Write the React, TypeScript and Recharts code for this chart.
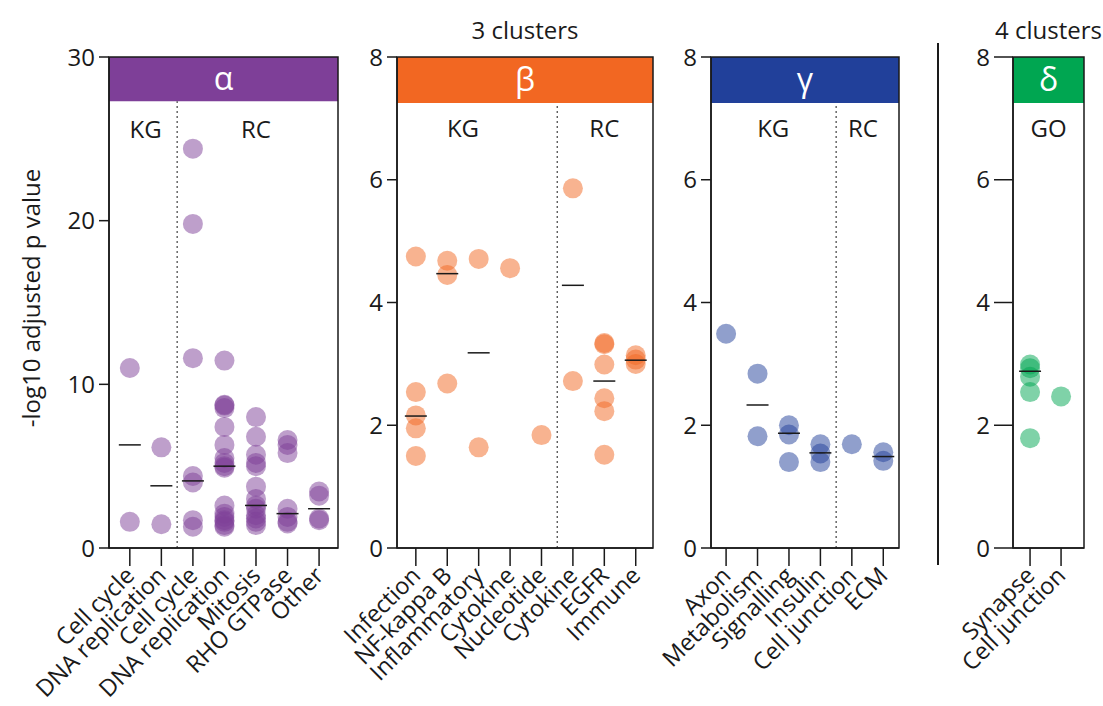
import React from "react";
import { ScatterChart, Scatter, XAxis, YAxis, ReferenceArea, ReferenceLine, ReferenceDot } from "recharts";

const FONT = '"Open Sans", "Noto Sans", sans-serif';
const INK = "#1a1a1a";

// α cluster
const alphaCats = ["Cell cycle", "DNA replication", "Cell cycle", "DNA replication", "Mitosis", "RHO GTPase", "Other"];
const alphaValues = [
  [11.0, 1.6],
  [6.15, 1.45],
  [24.4, 19.8, 11.6, 4.4, 4.0, 1.7, 1.3],
  [11.45, 8.75, 8.7, 8.55, 7.4, 6.3, 5.5, 5.2, 5.0, 4.9, 2.6, 2.1, 1.9, 1.7, 1.6, 1.4, 1.3],
  [8.0, 6.8, 5.7, 5.2, 5.0, 3.75, 3.0, 2.6, 2.4, 2.0, 1.8, 1.6, 1.4],
  [6.6, 6.3, 5.8, 2.4, 1.9, 1.6, 1.5],
  [3.45, 3.2, 1.8, 1.7],
];
const alphaMedians = [6.3, 3.8, 4.1, 5.0, 2.6, 2.1, 2.4];

// β cluster
const betaCats = ["Infection", "NF-kappa B", "Inflammatory", "Cytokine", "Nucleotide", "Cytokine", "EGFR", "Immune"];
const betaValues = [
  [4.75, 2.54, 2.16, 1.95, 1.5],
  [4.68, 4.45, 2.68],
  [4.71, 1.64],
  [4.56],
  [1.84],
  [5.86, 2.72],
  [3.34, 3.32, 2.99, 2.44, 2.23, 1.52],
  [3.14, 3.07, 3.0],
];
const betaMedians = [2.15, 4.47, 3.18, null, null, 4.28, 2.72, 3.06];

// γ cluster
const gammaCats = ["Axon", "Metabolism", "Signalling", "Insulin", "Cell junction", "ECM"];
const gammaValues = [
  [3.49],
  [2.84, 1.82],
  [2.0, 1.85, 1.4],
  [1.69, 1.54, 1.4],
  [1.69],
  [1.56, 1.42],
];
const gammaMedians = [null, 2.33, 1.87, 1.55, null, 1.49];

// δ cluster
const deltaCats = ["Synapse", "Cell junction"];
const deltaValues = [
  [2.99, 2.93, 2.79, 2.54, 1.79],
  [2.47],
];
const deltaMedians = [2.88, null];

type Group = { name: string; at: number };

type Panel = {
  left: number;
  width: number;
  yAxisWidth: number;
  rightMargin: number;
  xDomain: [number, number];
  yMax: number;
  yTicks: number[];
  yTickSize: number;
  headerFrom: number;
  groupY: number;
  color: string;
  letter: string;
  cats: string[];
  values: number[][];
  medians: (number | null)[];
  groups: Group[];
  dividers: number[];
  title?: string;
  yLabel?: string;
};

const panels: Panel[] = [
  {
    left: 0, width: 345, yAxisWidth: 109, rightMargin: 7,
    xDomain: [-0.66, 6.6], yMax: 30, yTicks: [0, 10, 20, 30], yTickSize: 10,
    headerFrom: 27.3, groupY: 25.6, color: "#7E3F98", letter: "α",
    cats: alphaCats, values: alphaValues, medians: alphaMedians,
    groups: [{ name: "KG", at: 0.5 }, { name: "RC", at: 4 }], dividers: [1.5],
    yLabel: "-log10 adjusted p value",
  },
  {
    left: 345, width: 315, yAxisWidth: 52, rightMargin: 7,
    xDomain: [-0.6, 7.55], yMax: 8, yTicks: [0, 2, 4, 6, 8], yTickSize: 10,
    headerFrom: 7.25, groupY: 6.83, color: "#F26722", letter: "β",
    cats: betaCats, values: betaValues, medians: betaMedians,
    groups: [{ name: "KG", at: 1.5 }, { name: "RC", at: 6 }], dividers: [4.5],
    title: "3 clusters",
  },
  {
    left: 660, width: 246, yAxisWidth: 51, rightMargin: 7,
    xDomain: [-0.48, 5.5], yMax: 8, yTicks: [0, 2, 4, 6, 8], yTickSize: 10,
    headerFrom: 7.25, groupY: 6.83, color: "#21409A", letter: "γ",
    cats: gammaCats, values: gammaValues, medians: gammaMedians,
    groups: [{ name: "KG", at: 1.5 }, { name: "RC", at: 4.35 }], dividers: [3.5],
  },
  {
    left: 950, width: 140, yAxisWidth: 63, rightMargin: 6,
    xDomain: [-0.55, 1.74], yMax: 8, yTicks: [0, 2, 4, 6, 8], yTickSize: 19,
    headerFrom: 7.25, groupY: 6.83, color: "#00A651", letter: "δ",
    cats: deltaCats, values: deltaValues, medians: deltaMedians,
    groups: [{ name: "GO", at: 0.6 }], dividers: [],
    title: "4 clusters",
  },
];

const CatTick = (props: any) => {
  const { x, y, payload, labels } = props;
  const ax = x + 6;
  const ay = y + 9;
  return (
    <text
      x={ax}
      y={ay}
      transform={`rotate(-45, ${ax}, ${ay})`}
      textAnchor="end"
      fontSize={23.5}
      fontFamily={FONT}
      fill={INK}
    >
      {labels[payload.value]}
    </text>
  );
};

const PanelChart = ({ p }: { p: Panel }) => {
  const points = p.values.flatMap((vs, i) => vs.map((v) => ({ x: i, y: v })));
  const meds = p.medians
    .map((m, i) => (m == null ? null : { x: i, y: m }))
    .filter((d) => d !== null);
  const ticks = p.cats.map((_, i) => i);

  return (
    <div style={{ position: "absolute", left: p.left, top: 0 }}>
      <ScatterChart width={p.width} height={706} margin={{ top: 57, right: p.rightMargin, bottom: 0, left: 0 }}>
        <XAxis
          type="number"
          dataKey="x"
          domain={p.xDomain}
          ticks={ticks}
          interval={0}
          allowDataOverflow
          height={158}
          tickSize={18}
          axisLine={{ stroke: INK, strokeWidth: 1.5 }}
          tickLine={{ stroke: INK, strokeWidth: 1.5 }}
          tick={(tp: any) => <CatTick {...tp} labels={p.cats} />}
        />
        <YAxis
          type="number"
          dataKey="y"
          domain={[0, p.yMax]}
          ticks={p.yTicks}
          interval={0}
          allowDataOverflow
          width={p.yAxisWidth}
          tickSize={p.yTickSize}
          tickMargin={4}
          axisLine={{ stroke: INK, strokeWidth: 1.5 }}
          tickLine={{ stroke: INK, strokeWidth: 1.5 }}
          tick={{ fontSize: 24, fill: INK, fontFamily: FONT }}
          label={
            p.yLabel
              ? {
                  content: () => (
                    <text
                      x={30}
                      y={298}
                      transform="rotate(-90, 30, 298)"
                      textAnchor="middle"
                      dominantBaseline="central"
                      fontSize={24}
                      fontFamily={FONT}
                      fill={INK}
                    >
                      {p.yLabel}
                    </text>
                  ),
                }
              : undefined
          }
        />
        <ReferenceArea
          x1={p.xDomain[0]}
          x2={p.xDomain[1]}
          y1={p.headerFrom}
          y2={p.yMax}
          fill={p.color}
          fillOpacity={1}
          stroke="none"
          label={{ value: p.letter, position: "center", fill: "#fff", fontSize: 32, fontFamily: FONT }}
        />
        {p.title && (
          <ReferenceArea
            x1={p.xDomain[0]}
            x2={p.xDomain[1]}
            y1={p.headerFrom}
            y2={p.yMax}
            fillOpacity={0}
            stroke="none"
            label={{ value: p.title, position: "top", offset: 18, fill: INK, fontSize: 24, fontFamily: FONT }}
          />
        )}
        {p.dividers.map((d) => (
          <ReferenceLine
            key={d}
            segment={[{ x: d, y: 0 }, { x: d, y: p.headerFrom }]}
            stroke={INK}
            strokeWidth={1}
            strokeDasharray="2 3"
          />
        ))}
        {p.groups.map((g) => (
          <ReferenceDot
            key={g.name}
            x={g.at}
            y={p.groupY}
            r={0}
            stroke="none"
            fill="none"
            label={{ value: g.name, position: "center", fill: INK, fontSize: 24, fontFamily: FONT }}
          />
        ))}
        <Scatter
          data={points}
          isAnimationActive={false}
          shape={(sp: any) => <circle cx={sp.cx} cy={sp.cy} r={10} fill={p.color} fillOpacity={0.5} />}
        />
        <Scatter
          data={meds}
          isAnimationActive={false}
          shape={(sp: any) => (
            <line x1={sp.cx - 11} x2={sp.cx + 11} y1={sp.cy} y2={sp.cy} stroke={INK} strokeWidth={1.5} />
          )}
        />
        <ReferenceArea
          x1={p.xDomain[0]}
          x2={p.xDomain[1]}
          y1={0}
          y2={p.yMax}
          fillOpacity={0}
          stroke={INK}
          strokeWidth={1.5}
        />
      </ScatterChart>
    </div>
  );
}

export default function App() {
  return (
    <div style={{ position: "absolute", left: 0, top: 0, width: 1103, height: 706, background: "#fff", fontFamily: FONT }}>
      <style>{`.recharts-surface{overflow:visible}`}</style>
      {panels.map((p) => (
        <PanelChart key={p.letter} p={p} />
      ))}
      <div style={{ position: "absolute", left: 937, top: 43, width: 1.5, height: 522, background: INK }} />
    </div>
  );
}
